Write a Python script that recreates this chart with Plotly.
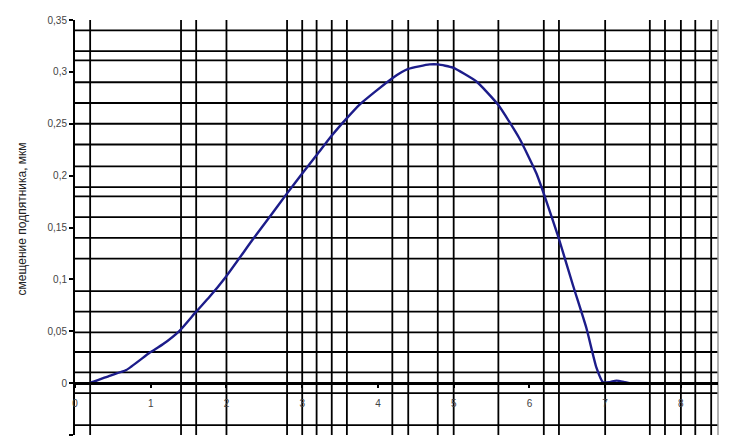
import plotly.graph_objects as go

# curve (x in the chart's units, y in мкм)
x_vals = [0.0, 0.19, 0.456, 0.676, 0.984, 1.16, 1.38, 1.60, 1.777, 1.988,
          2.349, 2.569, 2.79, 3.0, 3.186, 3.388, 3.596, 3.758, 4.19, 4.40,
          4.683, 4.793, 4.99, 5.30, 5.585, 5.872, 6.093, 6.203, 6.378, 6.576,
          6.753, 6.885, 6.972, 7.06, 7.149, 7.26, 7.325, 8.49]
y_vals = [0.0, 0.0, 0.0071, 0.0126, 0.0292, 0.0374, 0.0504, 0.0689, 0.0832, 0.1021,
          0.1386, 0.1602, 0.1819, 0.2020, 0.2194, 0.2384, 0.2559, 0.2685, 0.2939, 0.3028,
          0.3072, 0.3072, 0.3040, 0.2907, 0.2685, 0.2353, 0.2020, 0.1798, 0.1418, 0.0941,
          0.0529, 0.0149, 0.0008, 0.0010, 0.0024, 0.0010, 0.0, 0.0]

x_ticks = [0, 1, 2, 3, 4, 5, 6, 7, 8]
x_tick_text = ["0", "1", "2", "3", "4", "5", "6", "7", "8"]
y_ticks = [-0.05, 0, 0.05, 0.1, 0.15, 0.2, 0.25, 0.3, 0.35]
y_tick_text = ["", "0", "0,05", "0,1", "0,15", "0,2", "0,25", "0,3", "0,35"]

# the irregular grid of the original sheet
grid_x = [0.2, 1.4, 1.6, 2.0, 2.8, 3.0, 3.19, 3.39, 3.59, 4.19, 4.4, 4.79,
          5.0, 5.59, 6.19, 6.39, 7.0, 7.59, 7.79, 8.0, 8.19, 8.4]
grid_y = [0.34, 0.32, 0.311, 0.29, 0.27, 0.25, 0.23, 0.209, 0.189, 0.18,
          0.16, 0.14, 0.12, 0.0886, 0.069, 0.049, 0.03, 0.0103, -0.0097, -0.0404]

y_title = "смещение подпятника, мкм"

X_RANGE = [0, 8.49]
Y_RANGE = [-0.05, 0.35]

fig = go.Figure()

fig.add_trace(go.Scatter(
    x=x_vals, y=y_vals, mode="lines",
    line=dict(color="#1c1c8a", width=2.4, shape="spline", smoothing=0.5),
    showlegend=False, hoverinfo="x+y"
))

shapes = []
for gx in grid_x:
    shapes.append(dict(type="line", xref="x", yref="paper", x0=gx, x1=gx, y0=0, y1=1,
                       line=dict(color="black", width=1.8), layer="below"))
for gy in grid_y:
    shapes.append(dict(type="line", xref="paper", yref="y", x0=0, x1=1, y0=gy, y1=gy,
                       line=dict(color="black", width=1.8), layer="below"))
# right edge of the sheet
shapes.append(dict(type="line", xref="paper", yref="paper", x0=1, x1=1, y0=0, y1=1,
                   line=dict(color="#999999", width=1.5), layer="below"))

# x axis crosses at y = 0
zero_pos = (0 - Y_RANGE[0]) / (Y_RANGE[1] - Y_RANGE[0])

# page body has an 8px margin, so the figure is drawn 8px smaller
fig.update_layout(
    width=733, height=437,
    margin=dict(l=67, r=23, t=6, b=10),
    paper_bgcolor="white", plot_bgcolor="white",
    font=dict(family="Liberation Sans, Arial, sans-serif", size=10, color="#333333"),
    shapes=shapes,
    xaxis=dict(
        range=X_RANGE, tickvals=x_ticks, ticktext=x_tick_text,
        showgrid=False, zeroline=False,
        showline=True, linecolor="black", linewidth=2.5,
        ticks="outside", ticklen=3, tickwidth=2, tickcolor="black",
        ticklabelstandoff=7,
        anchor="free", position=zero_pos,
        tickfont=dict(size=10, color="#444444"),
    ),
    yaxis=dict(
        range=Y_RANGE, tickvals=y_ticks, ticktext=y_tick_text,
        showgrid=False, zeroline=False,
        showline=True, linecolor="black", linewidth=2,
        ticks="outside", ticklen=4, tickwidth=2, tickcolor="black",
        tickfont=dict(size=10, color="#444444"),
    ),
    annotations=[dict(
        text=y_title, textangle=-90, xref="paper", yref="paper",
        x=-0.083, y=0.521, xanchor="center", yanchor="middle",
        showarrow=False, font=dict(size=12, color="#222222"),
    )],
)

fig.write_html("out.html")
